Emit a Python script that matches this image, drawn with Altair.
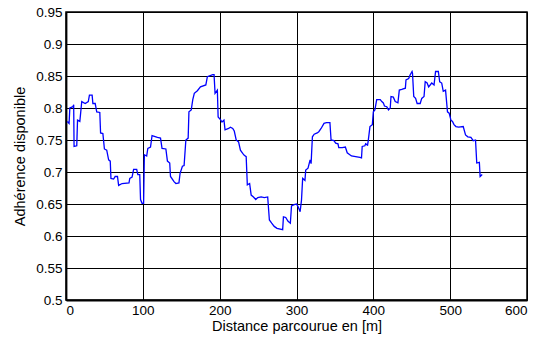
import altair as alt
import pandas as pd

distance = [1.7,4,5,9,10,10.5,14,15,18,20.5,25,29,30.5,34,35,38,40,44,45,48,50,53,55.5,57.6,58.5,62,64,67,68.5,73,82,83,86,88,92,93.5,96,97,99,101,102,105,106.5,110,112,119,123,125,130,132,135,136,140.6,143,147,148.5,151.5,153.7,156,159,160,163,165,167,171,175,182,184,191,192.7,194,197,198,201,203,205.6,207,211.6,214,217,219,221.5,224.6,227,230,232,234.5,236,239,241,244,247,249.6,254,258,262.5,264.7,267.7,271,274.6,282,283,286,289,292,293.5,297,300,302,304.7,306.5,308,311,312,315,317.7,319,320.7,323,327,329,332,335.8,339,343.5,345,348.7,351,354,355,359.5,363.6,366,371.5,382.5,384.6,385.5,389,390,392.5,393.4,395.6,398.7,400,402,404.4,409,411,413,414.5,417.5,419.7,422,423,426,428.5,432,433.8,437,441.7,442.5,446,448,450.4,451,452.6,455,457,461,463,466,467.5,470,472,476,479,481,484.6,486.4,489,491,494,496.5,498.7,501,503,505,507.5,511,517,520,523,527,530,533,534.6,538,539,541.7]
adherence = [0.779,0.776,0.800,0.802,0.805,0.740,0.741,0.781,0.779,0.810,0.807,0.810,0.820,0.820,0.807,0.807,0.794,0.793,0.761,0.760,0.736,0.734,0.719,0.717,0.690,0.689,0.693,0.693,0.679,0.682,0.683,0.690,0.692,0.704,0.704,0.696,0.696,0.657,0.651,0.651,0.727,0.725,0.737,0.739,0.757,0.754,0.753,0.737,0.736,0.717,0.714,0.693,0.685,0.682,0.683,0.698,0.709,0.710,0.750,0.753,0.794,0.797,0.813,0.823,0.827,0.833,0.836,0.849,0.852,0.852,0.823,0.828,0.786,0.782,0.778,0.781,0.766,0.768,0.770,0.768,0.764,0.750,0.747,0.734,0.729,0.726,0.724,0.680,0.682,0.664,0.661,0.657,0.660,0.661,0.660,0.661,0.625,0.620,0.615,0.612,0.610,0.630,0.629,0.623,0.620,0.647,0.649,0.650,0.646,0.638,0.656,0.690,0.687,0.703,0.706,0.719,0.713,0.755,0.759,0.761,0.763,0.768,0.776,0.777,0.777,0.750,0.749,0.745,0.744,0.738,0.738,0.739,0.730,0.725,0.723,0.722,0.740,0.741,0.744,0.742,0.749,0.771,0.774,0.794,0.797,0.813,0.813,0.810,0.808,0.803,0.802,0.797,0.800,0.818,0.817,0.810,0.808,0.828,0.829,0.831,0.844,0.846,0.852,0.857,0.854,0.818,0.815,0.807,0.807,0.815,0.818,0.841,0.839,0.833,0.839,0.836,0.857,0.857,0.841,0.839,0.826,0.828,0.794,0.792,0.781,0.779,0.774,0.771,0.770,0.771,0.758,0.755,0.754,0.749,0.750,0.714,0.715,0.693,0.696]

x_ticks = [0, 100, 200, 300, 400, 500, 600]
y_ticks = [0.5, 0.55, 0.6, 0.65, 0.7, 0.75, 0.8, 0.85, 0.9, 0.95]

df = pd.DataFrame({"d": distance, "a": adherence})

FONT = "Liberation Sans"

chart = alt.Chart(df).mark_line(color="#0000ff", strokeWidth=1.3).encode(
    x=alt.X("d:Q", scale=alt.Scale(domain=[0, 600], nice=False),
            axis=alt.Axis(values=x_ticks, title="Distance parcourue en [m]", format="d",
                          labelPadding=3, titlePadding=3)),
    y=alt.Y("a:Q", scale=alt.Scale(domain=[0.5, 0.95], nice=False, zero=False),
            axis=alt.Axis(values=y_ticks, title="Adhérence disponible", format=".2~f",
                          labelPadding=4, titlePadding=8)),
).properties(
    width=461, height=288,
    padding={"left": 66, "top": 12, "right": 18, "bottom": 39},
    autosize=alt.AutoSizeParams(type="none"),
).configure_axis(
    grid=True, gridColor="black", gridWidth=1, gridOpacity=1,
    domainColor="black", domainWidth=1.8,
    ticks=False,
    labelFont=FONT, labelFontSize=13.5, labelColor="black",
    titleFont=FONT, titleFontSize=14.5, titleFontWeight="normal", titleColor="black",
).configure_view(stroke="black", strokeWidth=1.5)

chart.save("out.html", embed_options={"renderer": "svg", "actions": False})
